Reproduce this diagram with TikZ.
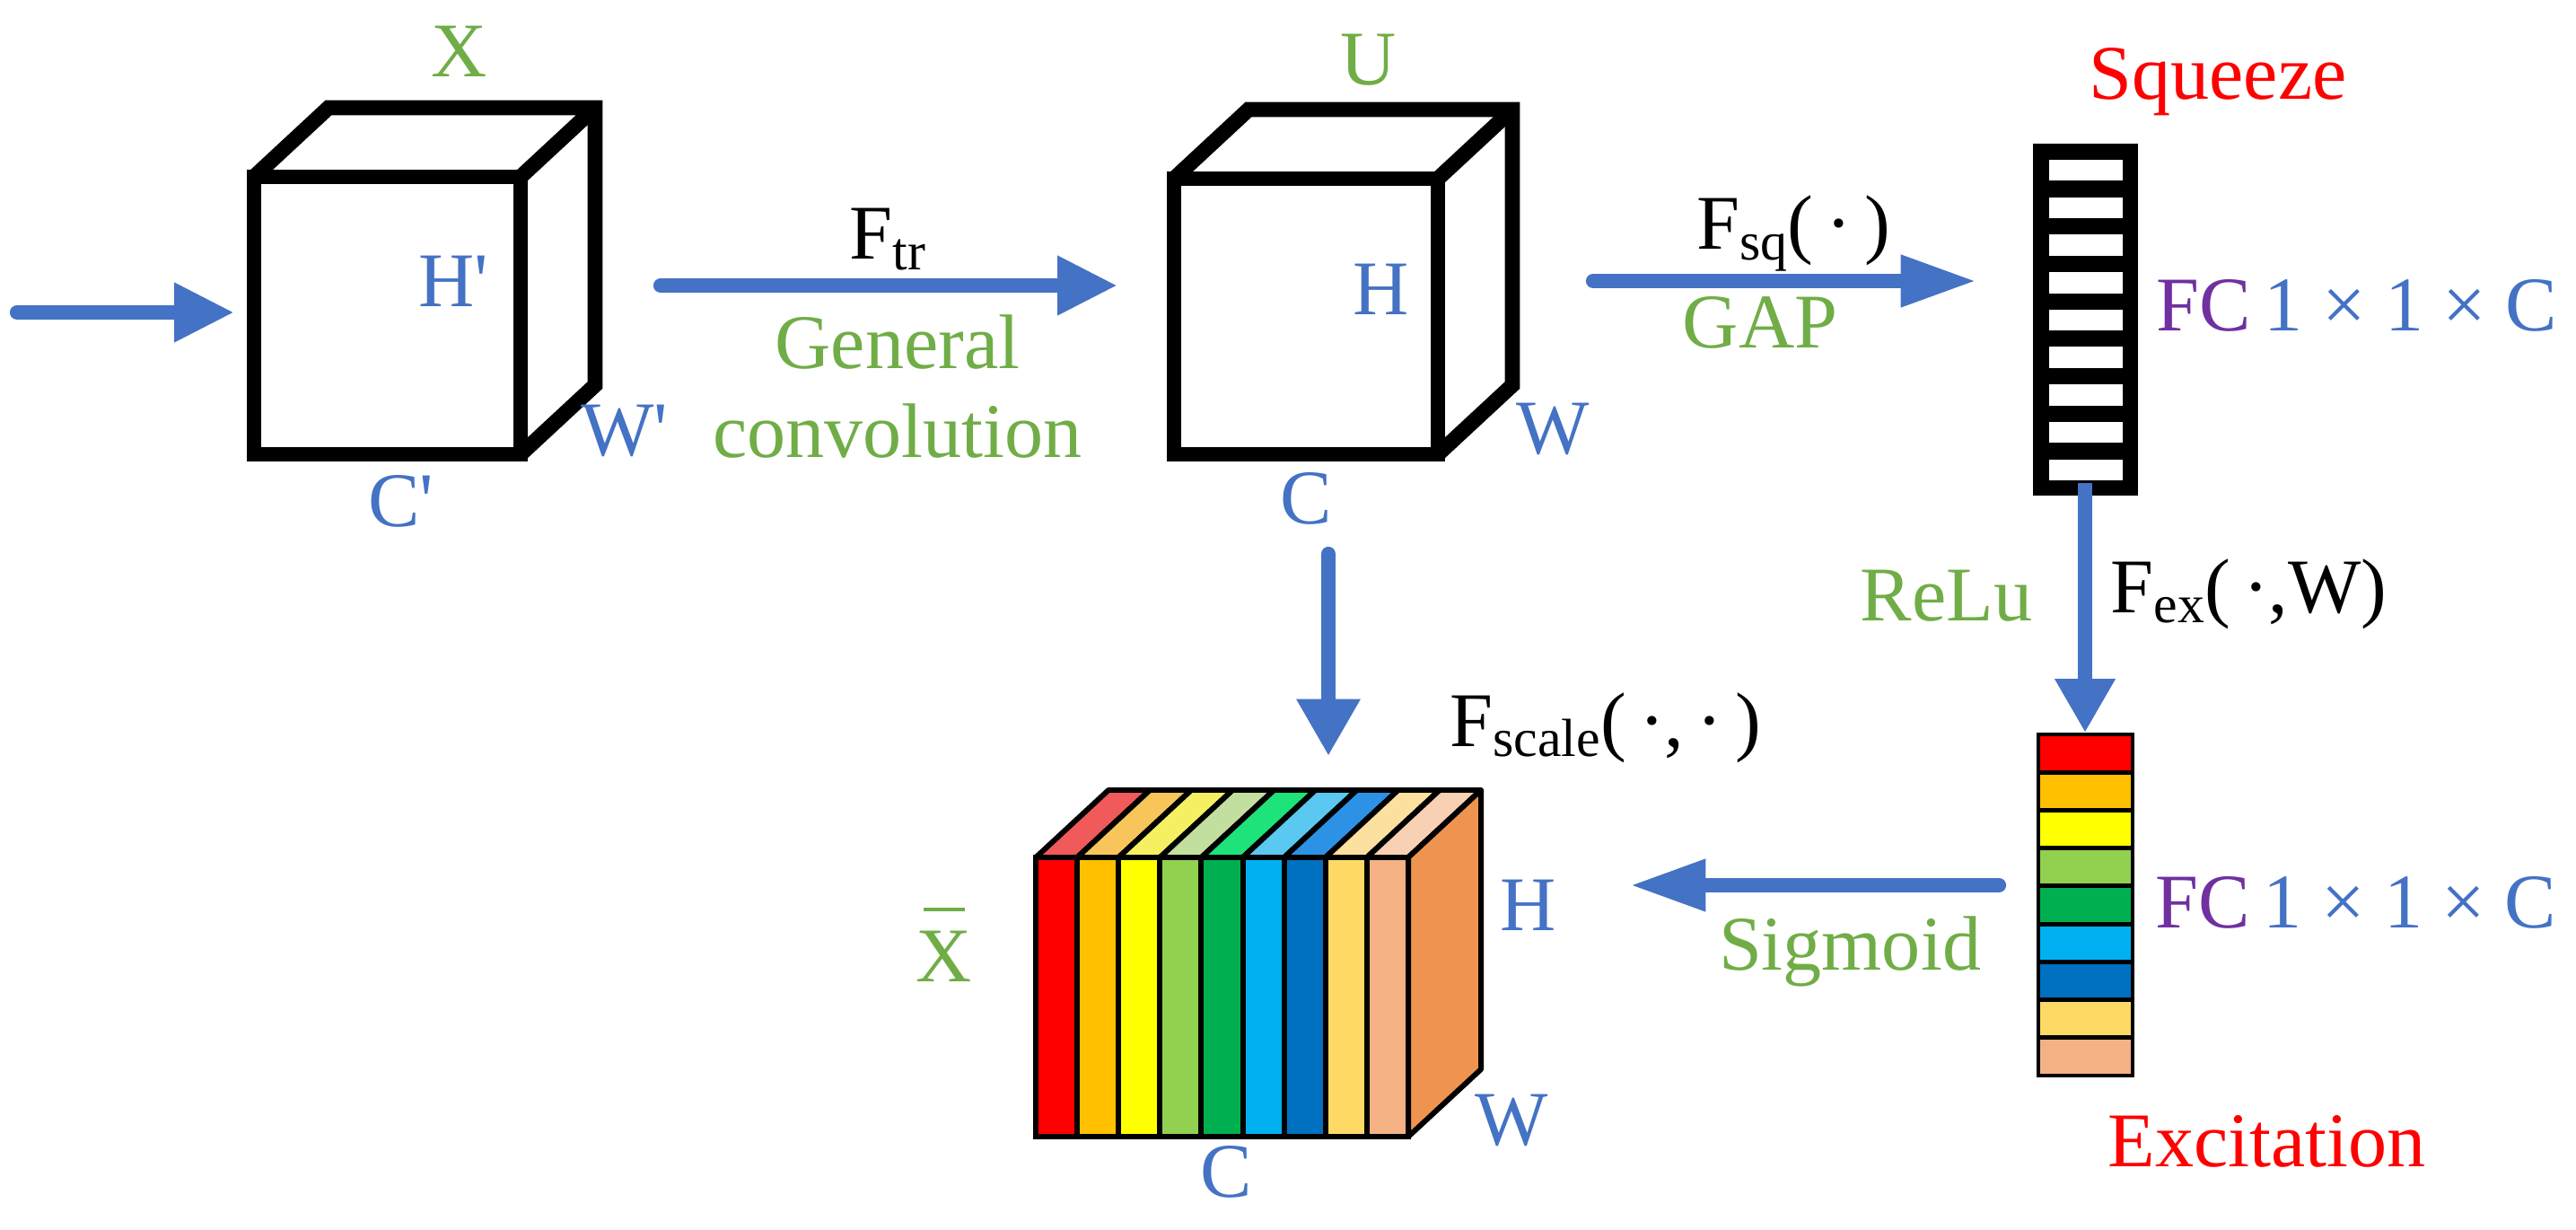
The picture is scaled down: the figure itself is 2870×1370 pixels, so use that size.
\documentclass[tikz,border=0pt]{standalone}
\usepackage{fontspec}
\setmainfont{Liberation Serif}
\usetikzlibrary{arrows.meta}
\definecolor{ablue}{HTML}{4472C4}
\definecolor{tgreen}{HTML}{70AD47}
\definecolor{tblue}{HTML}{4472C4}
\definecolor{tred}{HTML}{FF0000}
\definecolor{tpurple}{HTML}{7030A0}
\definecolor{ca}{HTML}{FF0000}
\definecolor{cb}{HTML}{FFC000}
\definecolor{cc}{HTML}{FFFF00}
\definecolor{cd}{HTML}{92D050}
\definecolor{ce}{HTML}{00B050}
\definecolor{cf}{HTML}{00B0F0}
\definecolor{cg}{HTML}{0070C0}
\definecolor{ch}{HTML}{FFD966}
\definecolor{ci}{HTML}{F4B183}
\definecolor{la}{HTML}{F05A5A}
\definecolor{lb}{HTML}{F8C55A}
\definecolor{lc}{HTML}{F5F062}
\definecolor{ld}{HTML}{C3DFA0}
\definecolor{le}{HTML}{1EE27A}
\definecolor{lf}{HTML}{5AC8F0}
\definecolor{lg}{HTML}{2C92E6}
\definecolor{lh}{HTML}{FCE0A0}
\definecolor{li}{HTML}{F8D0B4}
\definecolor{rside}{HTML}{EF9450}
\newcommand{\sbs}[1]{\raisebox{-3.4pt}{\fontsize{17}{17}\selectfont #1}}
\newcommand{\prm}{\textquotesingle}
\begin{document}
\begin{tikzpicture}[x=0.01cm,y=-0.01cm,
  lbl/.style={font=\fontsize{24.5}{29}\selectfont, inner sep=0pt, anchor=base},
  cube/.style={line width=4.8pt, line join=miter},
  flow/.style={ablue, line width=4.6pt, line cap=round, -{Triangle[length=19pt,width=17.6pt]}},
  flowb/.style={ablue, line width=4.6pt, line cap=round, -{Triangle[length=24pt,width=15.4pt]}}]
\useasboundingbox (0,0) rectangle (2870,1370);

% cube X
\draw[cube] (283,197) rectangle (580,506);
\draw[cube] (283,197) -- (366,120) -- (663,120) -- (663,429) -- (580,506);
\draw[cube] (580,197) -- (663,120);
% cube U
\draw[cube] (1308,199) rectangle (1602,506);
\draw[cube] (1308,199) -- (1391,122) -- (1685,122) -- (1685,429) -- (1602,506);
\draw[cube] (1602,199) -- (1685,122);

% squeeze bar
\fill (2265,160) rectangle (2382,552);
\foreach \i in {0,...,8}
  \fill[white] (2283,{178+\i*41.7}) rectangle (2365,{201.5+\i*41.7});

% excitation bar
\foreach \c [count=\i from 0] in {ca,cb,cc,cd,ce,cf,cg,ch,ci}
  \draw[line width=1.4pt, fill=\c] (2271,{818+\i*42.22}) rectangle (2376,{818+(\i+1)*42.22});

% colored box
\foreach \c/\l [count=\i from 0] in {ca/la,cb/lb,cc/lc,cd/ld,ce/le,cf/lf,cg/lg,ch/lh,ci/li}{
  \draw[line width=1.7pt, line join=round, fill=\l] ({1154+\i*46.11},955) -- ({1235+\i*46.11},880) -- ({1281.11+\i*46.11},880) -- ({1200.11+\i*46.11},955) -- cycle;
  \draw[line width=1.7pt, fill=\c] ({1154+\i*46.11},955) rectangle ({1200.11+\i*46.11},1266);
}
\draw[line width=1.7pt, line join=round, fill=rside] (1569,955) -- (1650,880) -- (1650,1191) -- (1569,1266) -- cycle;

% labels
\node[lbl, tgreen] (lx) at (512,86) {X};
\node[lbl, tblue] (lhp) at (505,342) {H\prm};
\node[lbl, tblue] (lwp) at (696,507) {W\prm};
\node[lbl, tblue] (lcp) at (447,586) {C\prm};
\node[lbl, tgreen] (lu) at (1525,95) {U};
\node[lbl, tblue] (lh) at (1539,351) {H};
\node[lbl, tblue] (lw) at (1730,505) {W};
\node[lbl, tblue] (lc) at (1455,583) {C};
\node[lbl, anchor=base west] (lftr) at (946,289) {F\sbs{tr}};
\node[lbl, tgreen] (lgen) at (1000,411) {General};
\node[lbl, tgreen] (lconv) at (1000,509) {convolution};
\node[lbl, anchor=base west] (lfsq) at (1890,278) {F\sbs{sq}(\,·\,)};
\node[lbl, tgreen] (lgap) at (1961,388) {GAP};
\node[lbl, tred] (lsq) at (2471,111) {Squeeze};
\node[lbl, anchor=base west] (lfc1) at (2402,369) {\textcolor{tpurple}{FC}\,\textcolor{tblue}{1 × 1 × C}};
\node[lbl, tgreen, anchor=base east] (lrelu) at (2265,691) {ReLu};
\node[lbl, anchor=base west] (lfex) at (2351,682) {F\sbs{ex}(\,·,W)};
\node[lbl, anchor=base west] (lfc2) at (2401,1033) {\textcolor{tpurple}{FC}\,\textcolor{tblue}{1 × 1 × C}};
\node[lbl, tgreen] (lsig) at (2061,1080) {Sigmoid};
\node[lbl, tred, anchor=base west] (lexc) at (2348,1299) {Excitation};
\node[lbl, anchor=base west] (lfsc) at (1615,831) {F\sbs{scale}(\,·,\,·\,)};
\node[lbl, tgreen] (lxb) at (1052,1093) {X};
\draw[tgreen, line width=0.9pt] (1029,1013) -- (1075,1013);
\node[lbl, tblue] (lh2) at (1703,1036) {H};
\node[lbl, tblue] (lw2) at (1684,1275) {W};
\node[lbl, tblue] (lc2) at (1366,1333) {C};

% arrows
\coordinate (in0) at (19,348);   \coordinate (in1) at (261,348);
\coordinate (tr0) at (736,318);  \coordinate (tr1) at (1245,318);
\coordinate (sq0) at (1775,313); \coordinate (sq1) at (2202,313);
\coordinate (ex0) at (2323,538); \coordinate (ex1) at (2323,816);
\coordinate (sg0) at (2227,986); \coordinate (sg1) at (1816,986);
\coordinate (dn0) at (1480,617); \coordinate (dn1) at (1480,842);
\draw[flow] (in0) -- (in1);
\draw[flow] (tr0) -- (tr1);
\draw[flowb] (sq0) -- (sq1);
\draw[ablue, line width=4.6pt, -{Triangle[length=17pt,width=18pt]}] (ex0) -- (ex1);
\draw[flowb] (sg0) -- (sg1);
\draw[ablue, line width=4.6pt, line cap=round, -{Triangle[length=18pt,width=19pt]}] (dn0) -- (dn1);
\end{tikzpicture}
\end{document}
